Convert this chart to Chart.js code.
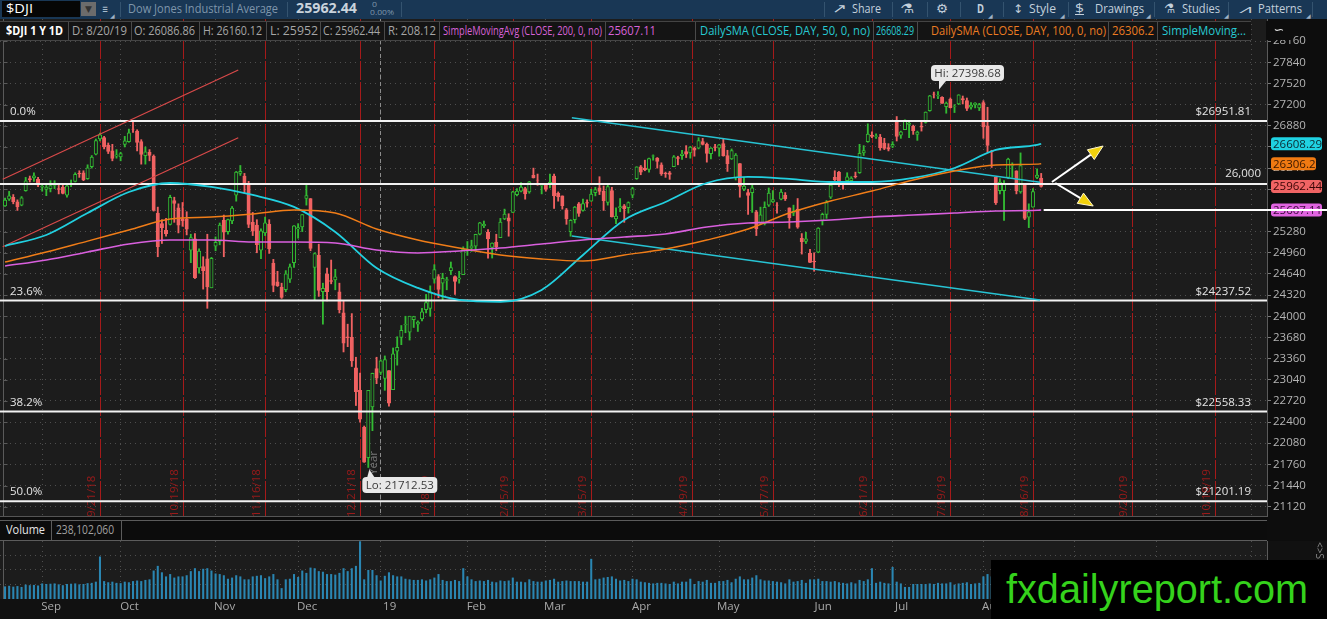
<!DOCTYPE html>
<html>
<head>
<meta charset="utf-8">
<script src="https://cdn.jsdelivr.net/npm/chart.js@4.4.0/dist/chart.umd.min.js"></script>
<style>
html,body{margin:0;padding:0;background:#0d0d0d;width:1327px;height:619px;overflow:hidden;font-family:"Open Sans","DejaVu Sans",sans-serif;}
.lb{position:absolute;white-space:nowrap;display:inline-block;transform-origin:0 50%;line-height:14px;}
#tb{position:absolute;left:0;top:0;width:1327px;height:19px;background:#193755;}
.sep{position:absolute;top:2px;width:1px;height:15px;background:#34536f;}
#hd{position:absolute;left:0;top:21px;width:1251px;height:18px;background:#141414;border-top:1px solid #444;border-bottom:1px solid #444;}
.hs{position:absolute;top:0;width:1px;height:18px;background:#4a4a4a;}
#pc{position:absolute;left:0;top:19px;}
#vc{position:absolute;left:0;top:541px;}
#vh{position:absolute;left:0;top:516px;width:1267px;height:24px;background:#0c0c0c;border-top:1px solid #555;}
#vh .in{position:absolute;left:0;top:3px;width:1267px;height:19px;border-top:1px solid #5c5c5c;border-bottom:1px solid #5c5c5c;}
#wm{position:absolute;left:991px;top:560px;width:336px;height:59px;background:#000;color:#35d21c;font-family:"Liberation Sans",Arial,sans-serif;font-size:40px;line-height:59px;}
#ic{position:absolute;left:1266px;top:21px;width:26px;height:19px;background:#0d0d0d;color:#ddd;font-size:13px;text-align:center;line-height:17px;}
</style>
</head>
<body>
<div id="tb"></div>
<canvas id="pc" width="1327" height="498"></canvas>
<div id="hd"></div>
<div id="ic">&#8765;</div>
<div id="vh"><div class="in"></div></div>
<canvas id="vc" width="1327" height="78"></canvas>
<div id="wm"><span class="lb" id="wmt" style="left:15px;top:0;line-height:59px">fxdailyreport.com</span></div>
<script>
// ---- daily bars 8/20/18 .. 8/20/19 (index 0 = 8/20/18) ----
const opens = [
  25669,25770,25800,25730,25680,25900,26080,26090,26070,25950,
  25916,25930,25980,25930,25950,25830,25990,26040,26160,26170,26080,26260,26450,26680,26700,26590,26500,26420,26410,
  26600,26640,26830,26800,26640,26430,26480,26420,25560,25400,25300,25390,25750,25640,25470,25470,25000,25170,24730,24750,24870,24430,25060,
  25130,25450,25280,25440,25830,26160,26120,25980,25420,25380,25000,25260,25390,24800,24520,24440,24400,24560,24810,25320,25350,
  25780,25780,24740,24920,24370,24640,24540,24550,24370,24050,23690,23680,23220,22880,22320,21860,22630,23210,23150,
  23060,23180,22890,23470,23680,23870,23760,23950,23880,23960,24100,24120,24560,24600,24500,24540,24690,24600,24560,24630,24990,
  25030,25060,25240,25370,25270,25040,25120,25190,25470,25490,25570,25840,25890,25930,25880,26130,26060,25980,25990,
  25990,26120,25860,25820,25610,25280,25460,25700,25600,25720,25740,25870,25940,25890,25720,25900,25470,25640,25670,25640,25830,
  26080,26260,26240,26220,26420,26390,26290,26160,26170,26260,26400,26430,26490,26470,26540,26540,26640,26600,26460,26560,26540,
  26610,26430,26380,26090,26310,25920,25870,25870,25580,25410,25400,25680,25730,25680,25770,25830,25640,25560,25620,25180,25130,24950,
  24830,24970,25450,25540,25800,26100,26180,26020,26050,26050,26120,26170,26470,26640,26740,26720,26710,26620,26550,26570,
  26960,26740,26820,26900,26870,26750,26870,26930,27110,27360,27330,27310,27170,27280,27170,27210,27290,27260,27160,27200,27150,27230,
  26880,26500,26100,25900,25900,26100,26280,26200,25880,26000,25500,25650,26100,26087
];
const highs = [
  25787,25888,25840,25760,25810,26100,26120,26167,26100,26010,
  25979,26050,26050,25990,25980,25990,26060,26170,26200,26200,26290,26430,26680,26770,26720,26620,26600,26520,26480,
  26720,26830,26952,26820,26670,26560,26520,26440,25650,25460,25480,25830,25800,25700,25720,25580,25240,25250,25020,24900,25240,24890,25200,
  25410,25530,25470,25660,26190,26280,26160,26040,25570,25460,25320,25500,25460,24860,24680,24500,24690,24790,25370,25400,25540,
  25980,25780,24960,25090,24500,24730,24850,24710,24500,24230,23880,24040,23380,23140,22340,22880,23140,23380,23340,
  23400,23180,23520,23690,23860,24000,24000,24000,23930,24120,24330,24460,24780,24630,24650,24590,24820,24610,24680,25050,25130,
  25150,25240,25420,25440,25310,25110,25240,25480,25620,25550,25890,25930,26020,25950,26040,26240,26150,26000,26000,
  26150,26150,25880,25820,25630,25460,25660,25720,25770,25760,25920,25950,26110,25970,26000,25950,25640,25780,25690,25730,25950,
  26260,26280,26360,26390,26440,26400,26320,26180,26190,26430,26420,26510,26580,26570,26560,26700,26690,26620,26550,26600,26600,
  26680,26510,26530,26460,26310,26100,25920,26000,25600,25650,25730,25940,25900,25720,25920,25870,25640,25680,25780,25250,25270,25010,
  24960,25340,25560,25750,26010,26200,26190,26040,26170,26110,26180,26600,26580,26910,26790,26760,26750,26690,26610,26640,
  27020,26800,26970,26960,26890,26800,26960,27090,27340,27390,27399,27320,27240,27300,27200,27350,27330,27300,27230,27230,27220,27260,
  27160,26510,26100,26080,26050,26390,26320,26200,26470,26010,25700,25930,26230,26160
];
const lows = [
  25660,25750,25700,25600,25670,25890,26030,26040,25960,25890,
  25823,25880,25930,25850,25850,25800,25960,26030,26100,26050,26070,26240,26440,26650,26530,26460,26350,26390,26350,
  26560,26630,26780,26500,26300,26300,26350,25590,24900,25100,25210,25380,25420,25260,25360,25230,24810,24570,24650,24410,24120,24430,24990,
  25080,24900,25240,25400,25740,26130,25860,25340,25220,24960,24870,25220,24950,24370,24450,24270,24370,24510,24740,25180,25280,
  25680,24990,24240,24300,23880,24230,24490,24400,24050,23460,23540,23240,22650,22400,21790,21713,22270,22980,23120,
  22880,22640,22890,23260,23570,23750,23640,23830,23770,23930,24050,24000,24500,24280,24250,24400,24630,24330,24500,24630,24920,
  24980,24990,25230,25340,24880,24880,24990,25190,25460,25210,25570,25820,25880,25770,25860,26090,25980,25850,25890,
  25940,25630,25740,25620,25390,25210,25410,25510,25590,25650,25740,25820,25840,25600,25680,25500,25400,25580,25420,25560,25790,
  26070,26140,26200,26180,26360,26240,26130,26100,26070,26260,26290,26370,26400,26390,26420,26530,26590,26330,26380,26500,26420,
  26420,26190,26370,26060,25800,25900,25540,25570,25220,25400,25380,25660,25720,25560,25760,25750,25330,25520,25330,24940,25100,24810,
  24680,24960,25380,25480,25780,26050,25960,25920,26030,26010,26090,26160,26430,26630,26700,26690,26510,26520,26500,26550,
  26650,26690,26820,26700,26750,26660,26800,26920,27100,27300,27290,27220,27070,27150,27080,27200,27210,27110,27130,27150,27110,26690,
  26480,26250,25690,25850,25450,26080,26100,25850,25860,25460,25340,25650,26080,25952
];
const closes = [
  25758,25822,25733,25656,25790,26049,26064,26124,25986,25965,
  25952,25974,25995,25916,25857,25971,25998,26145,26154,26062,26246,26405,26657,26743,26562,26492,26385,26440,26458,
  26651,26774,26828,26627,26447,26487,26431,25599,25053,25340,25250,25798,25706,25379,25444,25317,25191,24583,24984,24689,24443,24875,25116,
  25380,25271,25462,25635,26180,26191,25989,25387,25286,25081,25290,25413,25018,24465,24464,24286,24640,24749,25366,25339,25538,
  25826,25027,24947,24389,24423,24370,24527,24597,24101,23592,23675,23324,22860,22445,21792,22878,23138,23062,23327,
  23346,22686,23433,23531,23787,23879,24001,23996,23910,24065,24207,24370,24706,24404,24575,24553,24737,24528,24579,25014,24999,
  25064,25239,25411,25390,25169,25106,25053,25425,25543,25439,25883,25891,25954,25850,26031,26091,26057,25985,25916,
  26026,25819,25806,25673,25473,25450,25650,25554,25702,25709,25849,25914,25887,25746,25962,25502,25516,25657,25626,25717,25929,
  26258,26179,26218,26385,26425,26341,26151,26157,26143,26412,26385,26453,26450,26559,26512,26656,26597,26462,26543,26554,26593,
  26430,26308,26505,26438,25965,25968,25828,25942,25325,25532,25648,25863,25764,25679,25877,25776,25490,25586,25348,25126,25170,24815,
  24820,25332,25540,25720,25984,26062,26049,26004,26107,26090,26112,26465,26504,26753,26720,26727,26548,26537,26526,26600,
  26718,26787,26966,26922,26806,26784,26860,27088,27332,27359,27336,27220,27223,27154,27172,27350,27270,27141,27193,27222,27199,26864,
  26583,26485,25718,26030,26008,26378,26287,25898,26280,25479,25579,25886,26136,25962
];
// volume in millions
const volumes = [
  210,220,205,215,200,240,230,235,225,260,
  250,255,260,245,230,250,255,260,245,250,265,270,290,720,300,280,290,270,265,
  290,280,300,310,300,320,330,480,560,450,380,420,360,380,380,400,470,520,470,510,520,480,430,
  420,400,340,360,400,380,330,330,380,390,400,350,380,420,330,180,330,340,420,370,480,
  440,530,520,470,460,420,420,410,440,520,470,520,560,980,330,490,490,400,310,
  390,450,400,380,380,340,330,320,320,330,310,330,360,420,320,300,300,320,300,520,380,
  330,300,310,300,320,290,280,310,300,310,360,290,290,280,330,300,290,290,310,
  320,340,290,300,310,300,300,300,290,290,680,330,340,360,370,380,340,310,320,300,340,
  330,290,280,270,260,270,270,260,250,290,260,290,290,340,250,300,290,320,270,270,300,
  300,320,280,340,380,330,330,360,400,330,310,310,300,290,280,260,330,290,300,320,270,330,
  330,340,300,300,290,300,280,270,260,280,260,320,300,330,520,270,290,270,260,540,
  290,260,200,200,250,250,250,250,260,250,270,260,260,280,240,260,270,280,250,260,270,380,
  420,380,450,390,400,330,300,300,340,380,320,310,250,238
];

// moving averages at these bar indexes
const maIdx  = [0,10,20,30,40,50,60,70,80,90,100,110,120,130,140,150,160,170,180,190,200,210,220,230,240,250,251];
const sma50  = [25062,25229,25561,25879,26015,25955,25834,25653,25275,24730,24428,24246,24216,24398,24927,25456,25728,26015,26106,26076,26030,26030,26091,26242,26514,26590,26608.29];
const sma100 = [24820,24971,25137,25304,25470,25500,25546,25606,25561,25319,25153,25032,24926,24866,24835,24926,25017,25153,25319,25561,25743,25894,26060,26196,26287,26300,26306.2];
const sma200 = [24760,24851,24972,25093,25153,25153,25123,25123,25108,25002,24957,24987,25032,25093,25153,25198,25244,25350,25410,25425,25455,25501,25531,25561,25592,25602,25607.11];

// drawn studies (bar index / price)
const redChannelX  = [-0.57, 56.5];
const redUpperY    = [26071, 27724];
const redLowerY    = [25052, 26700];
const cyanChannelX = [137.3, 250.7];
const cyanUpperY   = [27002, 26027];
const cyanLowerY   = [25214, 24246];
const fibLevels = [26951.81, 24237.52, 22558.33, 21201.19];
const fibLabels = ['0.0%', '23.6%', '38.2%', '50.0%'];
const roundLevel = 26000;
const supportLevel = 25607.11;
const arrowUpX = [253.6, 266], arrowUpY = [26030, 26574];
const arrowDnX = [254.4, 263.6], arrowDnY = [26015, 25667];
const hiBar = 226, hiPrice = 27398.68;
const loBar = 88, loPrice = 21712.53;

// axes
const priceTicks = [21120,21440,21760,22080,22400,22720,23040,23360,23680,24000,24320,24640,24960,25280,25600,25920,26240,26560,26880,27200,27520,27840,28160];
const monthTicks = [9,28,51,71,91,112,131,152,173,196,215,237,259,279,302];
const monthLabels = ['Sep','Oct','Nov','Dec','19','Feb','Mar','Apr','May','Jun','Jul','Aug','Sep','Oct','Nov'];
const expiryIdx = [23,43,63,86,104,123,142,166.3,186,210,229,249,273,293];
const expiryLabels = ['9/21/18','10/19/18','11/16/18','12/21/18','1/18/19','2/15/19','3/15/19','4/19/19','5/17/19','6/21/19','7/19/19','8/16/19','9/20/19','10/18/19'];
const yearIdx = 90.9;
const volTicks = [250,500,750];
const axisBoxes = [
  { v: 26608.29, txt: '26608.29', bg: '#1fd2e2', fg: '#0c2a30', w: 51 },
  { v: 26306.2,  txt: '26306.2',  bg: '#f07a12', fg: '#3a1800', w: 45 },
  { v: 25962.44, txt: '25962.44', bg: '#f06464', fg: '#3a0505', w: 51 },
  { v: 25607.11, txt: '25607.11', bg: '#e064e0', fg: '#3a0a3a', w: 51 }
];

const xMin = -1.22, xMax = 305.7;
const yMin = 20964.2, yMax = 28494.8;
const volMax = 990;

const GREEN = '#33bb33', RED = '#f06262', PLOT = '#1c1c1c';
const FONT = "'Open Sans','DejaVu Sans',sans-serif";
Chart.defaults.font.family = FONT;
Chart.defaults.font.size = 11;

// ---- top toolbar & header (text stretched to the widths seen) ----
function label(parent, l, r, top, text, style) {
  const s = document.createElement('span');
  s.className = 'lb'; s.textContent = text;
  s.style.left = l + 'px'; s.style.top = top + 'px';
  Object.assign(s.style, style || {});
  parent.appendChild(s);
  if (r) {
    const w = s.getBoundingClientRect().width;
    s.style.transform = 'scaleX(' + ((r - l) / w) + ')';
  }
  return s;
}
const tb = document.getElementById('tb');
const box = document.createElement('div');
box.style.cssText = 'position:absolute;left:2px;top:1px;width:78px;height:16px;background:#060606;';
tb.appendChild(box);
const dd = document.createElement('div');
dd.style.cssText = 'position:absolute;left:81px;top:2px;width:15px;height:14px;background:#6c6c6c;color:#333;font-size:9px;text-align:center;line-height:14px;';
dd.textContent = '\u25BC'; tb.appendChild(dd);
label(tb, 6, 33, 2, '$DJI', { color: '#fff', fontSize: '12px' });
label(tb, 102, 108, 2, '\u2261', { color: '#a9bccd', fontSize: '12px' });
label(tb, 128, 278, 2, 'Dow Jones Industrial Average', { color: '#7f96ab', fontSize: '12px' });
label(tb, 296, 357, 1, '25962.44', { color: '#c9d3dc', fontSize: '14px', fontWeight: 'bold' });
label(tb, 372, 377, -3, '0', { color: '#7f96ab', fontSize: '8px' });
label(tb, 370, 394, 5, '0.00%', { color: '#7f96ab', fontSize: '8px' });
[120, 287, 401, 824, 892, 927, 960, 1003, 1068, 1154, 1228, 1312].forEach(x => {
  const d = document.createElement('div'); d.className = 'sep'; d.style.left = x + 'px'; tb.appendChild(d);
});
const tbc = { color: '#c3d0dc', fontSize: '12px' };
label(tb, 832, 847, 1, '\u2197', Object.assign({}, tbc, { fontSize: '13px' }));
label(tb, 852, 881, 2, 'Share', tbc);
label(tb, 900, 914, 1, '\u2697', Object.assign({}, tbc, { fontSize: '13px' }));
label(tb, 936, 948, 1, '\u2699', Object.assign({}, tbc, { fontSize: '13px' }));
label(tb, 977, 984, 2, 'D', Object.assign({}, tbc, { fontWeight: 'bold' }));
label(tb, 1013, 1023, 2, '\u2195', tbc);
label(tb, 1029, 1056, 2, 'Style', tbc);
label(tb, 1075, 1084, 2, '$', Object.assign({}, tbc, { textDecoration: 'underline' }));
label(tb, 1095, 1144, 2, 'Drawings', tbc);
label(tb, 1164, 1175, 1, '\u2697', Object.assign({}, tbc, { fontSize: '13px' }));
label(tb, 1182, 1220, 2, 'Studies', tbc);
label(tb, 1239, 1252, 2, '\u2A58', tbc);
label(tb, 1258, 1302, 2, 'Patterns', tbc);
[110, 988, 1060, 1146, 1224, 1306].forEach(x => label(tb, x, 0, 9, '\u25E2', { color: '#9fb2c4', fontSize: '6px' }));

const hd = document.getElementById('hd');
const hcells = [
  [6, 63, '$DJI 1 Y 1D', '#ffffff', 'bold'], [72, 127, 'D: 8/20/19', '#a6a6a6'],
  [134, 195, 'O: 26086.86', '#a6a6a6'], [203, 262, 'H: 26160.12', '#a6a6a6'],
  [270, 318, 'L: 25952', '#a6a6a6'], [323, 380, 'C: 25962.44', '#a6a6a6'],
  [388, 436, 'R: 208.12', '#a6a6a6'], [443, 602, 'SimpleMovingAvg (CLOSE, 200, 0, no)', '#d862d8'],
  [608, 656, '25607.11', '#d862d8'], [700, 870, 'DailySMA (CLOSE, DAY, 50, 0, no)', '#27c9d2'],
  [876, 914, '26608.29', '#27c9d2'], [931, 1106, 'DailySMA (CLOSE, DAY, 100, 0, no)', '#ec7c22'],
  [1112, 1154, '26306.2', '#ec7c22'], [1162, 1246, 'SimpleMoving...', '#27c9d2']
];
hcells.forEach(c => label(hd, c[0], c[1], 2, c[2], { color: c[3], fontSize: '12px', fontWeight: c[4] || 'normal' }));
[68, 131, 199, 266, 320, 384, 439, 605, 695, 873, 917, 1108, 1157].forEach(x => {
  const d = document.createElement('div'); d.className = 'hs'; d.style.left = x + 'px'; hd.appendChild(d);
});
const vin = document.querySelector('#vh .in');
label(vin, 6, 45, 2, 'Volume', { color: '#e6e6e6', fontSize: '12px' });
label(vin, 56, 114, 2, '238,102,060', { color: '#a0a0a0', fontSize: '12px' });
[51, 121].forEach(x => { const d = document.createElement('div'); d.className = 'hs'; d.style.left = x + 'px'; d.style.height = '19px'; d.style.background = '#5c5c5c'; vin.appendChild(d); });
(function () { const s = document.getElementById('wmt'); const w = s.getBoundingClientRect().width; s.style.transform = 'scaleX(' + (302 / w) + ')'; })();

// ---- price chart ----
const up = closes.map((c, i) => c >= opens[i]);
const line = (xs, ys, color, width) => ({
  type: 'line', data: xs.map((x, i) => ({ x, y: ys[i] })), borderColor: color, borderWidth: width,
  pointRadius: 0, fill: false, order: 0
});

function drawArrow(ctx, x1, y1, x2, y2) {
  const a = Math.atan2(y2 - y1, x2 - x1), L = 15, W = 6;
  const bx = x2 - L * Math.cos(a), by = y2 - L * Math.sin(a);
  ctx.strokeStyle = '#ffffff'; ctx.lineWidth = 2;
  ctx.beginPath(); ctx.moveTo(x1, y1); ctx.lineTo(bx, by); ctx.stroke();
  ctx.beginPath();
  ctx.moveTo(x2, y2);
  ctx.lineTo(bx + W * Math.sin(a), by - W * Math.cos(a));
  ctx.lineTo(bx - W * Math.sin(a), by + W * Math.cos(a));
  ctx.closePath();
  ctx.fillStyle = '#f2d20c'; ctx.fill();
  ctx.lineWidth = 1; ctx.strokeStyle = '#fff8d0'; ctx.stroke();
}
function rrect(ctx, x, y, w, h, r) {
  ctx.beginPath(); ctx.roundRect(x, y, w, h, r);
}

const priceDeco = {
  id: 'priceDeco',
  beforeDraw(chart) {
    const { ctx, chartArea: a } = chart;
    ctx.save();
    ctx.fillStyle = '#0d0d0d'; ctx.fillRect(0, 0, chart.width, chart.height);
    ctx.fillStyle = PLOT; ctx.fillRect(a.left, a.top, a.width, a.height);
    ctx.restore();
  },
  beforeDatasetsDraw(chart) {
    const { ctx, chartArea: a, scales: { x, y } } = chart;
    ctx.save();
    ctx.beginPath(); ctx.rect(a.left, a.top, a.width, a.height); ctx.clip();
    // left frame with small ticks
    ctx.strokeStyle = '#5a5a5a'; ctx.lineWidth = 1;
    ctx.beginPath(); ctx.moveTo(3.5, a.top); ctx.lineTo(3.5, a.bottom); ctx.stroke();
    priceTicks.forEach(v => { const py = Math.round(y.getPixelForValue(v)) + 0.5; ctx.beginPath(); ctx.moveTo(3.5, py); ctx.lineTo(7.5, py); ctx.stroke(); });
    expiryIdx.forEach((v, i) => {
      const px = Math.round(x.getPixelForValue(v)) + 0.5;
      ctx.strokeStyle = '#a51a1a'; ctx.setLineDash([19, 2]);
      ctx.beginPath(); ctx.moveTo(px, a.top); ctx.lineTo(px, a.bottom); ctx.stroke();
      ctx.setLineDash([]);
      ctx.save(); ctx.translate(px - 3, 498); ctx.rotate(-Math.PI / 2);
      ctx.font = '11.5px ' + FONT; ctx.fillStyle = '#9a1a1a'; ctx.textAlign = 'left'; ctx.textBaseline = 'bottom';
      ctx.fillText(expiryLabels[i], 0, 0); ctx.restore();
    });
    const yx = Math.round(x.getPixelForValue(yearIdx)) + 0.5;
    ctx.strokeStyle = '#8c8c8c'; ctx.setLineDash([4, 3]);
    ctx.beginPath(); ctx.moveTo(yx, a.top); ctx.lineTo(yx, a.bottom); ctx.stroke();
    ctx.setLineDash([]);
    ctx.save(); ctx.translate(yx - 1, 475 - 19); ctx.rotate(-Math.PI / 2);
    ctx.font = '11.5px ' + FONT; ctx.fillStyle = '#7a7a7a'; ctx.textBaseline = 'bottom';
    ctx.fillText('Year', 0, 0); ctx.restore();
    ctx.restore();
  },
  afterDatasetsDraw(chart) {
    const { ctx, chartArea: a, scales: { x, y } } = chart;
    ctx.save();
    ctx.font = '11.5px ' + FONT; ctx.fillStyle = '#e4e4e4'; ctx.textBaseline = 'alphabetic';
    fibLevels.forEach((v, i) => {
      const py = y.getPixelForValue(v);
      ctx.textAlign = 'left'; ctx.fillText(fibLabels[i], 10, py - 6);
      ctx.textAlign = 'right'; ctx.fillText('$' + v.toFixed(2), 1251, py - 6);
    });
    ctx.textAlign = 'right';
    ctx.fillText(roundLevel.toLocaleString('en-US'), 1261, y.getPixelForValue(roundLevel) - 7);
    drawArrow(ctx, x.getPixelForValue(arrowUpX[0]), y.getPixelForValue(arrowUpY[0]), x.getPixelForValue(arrowUpX[1]), y.getPixelForValue(arrowUpY[1]));
    drawArrow(ctx, x.getPixelForValue(arrowDnX[0]), y.getPixelForValue(arrowDnY[0]), x.getPixelForValue(arrowDnX[1]), y.getPixelForValue(arrowDnY[1]));
    // hi / lo bubbles
    ctx.font = '11.5px ' + FONT; ctx.textAlign = 'center'; ctx.textBaseline = 'middle';
    const hx = x.getPixelForValue(hiBar), hy = y.getPixelForValue(hiPrice);
    const hb = { l: hx - 7, t: hy - 26.5, w: 73, h: 16 };
    ctx.fillStyle = '#e8e8e8';
    rrect(ctx, hb.l, hb.t, hb.w, hb.h, 4); ctx.fill();
    ctx.beginPath(); ctx.moveTo(hb.l + 8, hb.t + hb.h); ctx.lineTo(hb.l + 15, hb.t + hb.h); ctx.lineTo(hx + 1, hy - 2); ctx.closePath(); ctx.fill();
    ctx.fillStyle = '#3a3a3a'; ctx.fillText('Hi: 27398.68', hb.l + hb.w / 2, hb.t + hb.h / 2 + 0.5);
    const lx = x.getPixelForValue(loBar), ly = y.getPixelForValue(loPrice);
    const lb = { l: lx - 6, t: ly + 9.5, w: 75, h: 16 };
    ctx.fillStyle = '#e8e8e8';
    rrect(ctx, lb.l, lb.t, lb.w, lb.h, 4); ctx.fill();
    ctx.beginPath(); ctx.moveTo(lb.l + 5, lb.t); ctx.lineTo(lb.l + 12, lb.t); ctx.lineTo(lx + 1, ly + 2); ctx.closePath(); ctx.fill();
    ctx.fillStyle = '#3a3a3a'; ctx.fillText('Lo: 21712.53', lb.l + lb.w / 2, lb.t + lb.h / 2 + 0.5);
    ctx.restore();
  },
  afterDraw(chart) {
    const { ctx, chartArea: a, scales: { x, y } } = chart;
    ctx.save();
    ctx.strokeStyle = '#5a5a5a'; ctx.lineWidth = 1;
    ctx.beginPath(); ctx.moveTo(a.right + 0.5, a.top); ctx.lineTo(a.right + 0.5, a.bottom); ctx.stroke();
    ctx.font = '11.5px ' + FONT; ctx.textAlign = 'left'; ctx.textBaseline = 'middle';
    axisBoxes.forEach(b => {
      const py = y.getPixelForValue(b.v);
      ctx.fillStyle = b.bg; rrect(ctx, a.right + 4, py - 6.5, b.w, 13, 3); ctx.fill();
      ctx.fillStyle = b.fg; ctx.fillText(b.txt, a.right + 6, py + 0.5);
    });
    const sy = Math.round(y.getPixelForValue(supportLevel));
    ctx.strokeStyle = '#ffffff'; ctx.lineWidth = 2;
    ctx.beginPath(); ctx.moveTo(x.getPixelForValue(251.6), sy); ctx.lineTo(chart.width, sy); ctx.stroke();
    ctx.restore();
  }
};

const barCommon = { type: 'bar', grouped: false, barPercentage: 1, categoryPercentage: 1, borderSkipped: false };
new Chart(document.getElementById('pc'), {
  type: 'bar',
  data: {
    datasets: [
      Object.assign({}, barCommon, {
        data: closes.map((c, i) => ({ x: i, y: [lows[i], highs[i]] })),
        backgroundColor: up.map(u => u ? GREEN : RED), barThickness: 1.2, maxBarThickness: 1.2, order: 3
      }),
      Object.assign({}, barCommon, {
        data: closes.map((c, i) => ({ x: i, y: [opens[i], c] })),
        backgroundColor: up.map(u => u ? PLOT : RED), borderColor: up.map(u => u ? GREEN : RED),
        borderWidth: 1, barThickness: 3.4, maxBarThickness: 3.4, order: 2
      }),
      Object.assign(line(maIdx, sma200, '#d95fde', 1.6), { cubicInterpolationMode: 'monotone' }),
      Object.assign(line(maIdx, sma100, '#f07d18', 1.4), { cubicInterpolationMode: 'monotone' }),
      Object.assign(line(maIdx, sma50, '#22d0e0', 1.8), { cubicInterpolationMode: 'monotone' }),
      line(redChannelX, redUpperY, '#d94a4a', 1.2),
      line(redChannelX, redLowerY, '#d94a4a', 1.2),
      line(cyanChannelX, cyanUpperY, '#27c3d3', 1.4),
      line(cyanChannelX, cyanLowerY, '#27c3d3', 1.4),
      ...fibLevels.map(v => line([xMin, xMax], [v, v], '#f2f2f2', 2)),
      line([xMin, xMax], [roundLevel, roundLevel], '#f2f2f2', 2)
    ]
  },
  options: {
    responsive: false, animation: false, events: [],
    layout: { padding: 0 },
    plugins: { legend: { display: false }, tooltip: { enabled: false } },
    scales: {
      x: {
        type: 'linear', min: xMin, max: xMax, offset: false,
        grid: { offset: false, color: '#4e4e4e', drawTicks: false },
        border: { display: false, dash: [1, 4] },
        ticks: { display: false },
        afterBuildTicks: s => { s.ticks = monthTicks.map(v => ({ value: v })); },
        afterFit: s => { s.height = 0; s.paddingLeft = 0; s.paddingRight = 0; }
      },
      y: {
        position: 'right', min: yMin, max: yMax, beginAtZero: false,
        grid: { color: '#4e4e4e', tickColor: '#7a7a7a', tickLength: 4, tickBorderDash: [] },
        border: { display: false, dash: [1, 4] },
        ticks: { color: '#b4b4b4', padding: 2, font: { size: 11.5 }, callback: v => String(v) },
        afterBuildTicks: s => { s.ticks = priceTicks.map(v => ({ value: v })); },
        afterFit: s => { s.width = 60; s.paddingTop = 0; s.paddingBottom = 0; }
      }
    }
  },
  plugins: [priceDeco]
});

// ---- volume pane ----
const volDeco = {
  id: 'volDeco',
  beforeDraw(chart) {
    const { ctx, chartArea: a } = chart;
    ctx.save();
    ctx.fillStyle = '#111111'; ctx.fillRect(0, 0, chart.width, chart.height);
    ctx.fillStyle = PLOT; ctx.fillRect(a.left, a.top, a.width, a.height);
    ctx.restore();
  },
  afterDraw(chart) {
    const { ctx, chartArea: a } = chart;
    ctx.save();
    ctx.strokeStyle = '#5a5a5a'; ctx.lineWidth = 1;
    ctx.beginPath(); ctx.moveTo(a.right + 0.5, 0); ctx.lineTo(a.right + 0.5, a.bottom); ctx.stroke();
    ctx.beginPath(); ctx.moveTo(3.5, a.top); ctx.lineTo(3.5, a.bottom); ctx.stroke();
    ctx.translate(1314, 1); ctx.rotate(Math.PI / 2);
    ctx.font = '10px ' + FONT; ctx.fillStyle = '#8a8a8a'; ctx.textBaseline = 'bottom';
    ctx.fillText('<>SL', 0, 0);
    ctx.restore();
  }
};
new Chart(document.getElementById('vc'), {
  type: 'bar',
  data: {
    datasets: [{
      data: volumes.map((v, i) => ({ x: i, y: v })), backgroundColor: '#2a86b2',
      barThickness: 1.4, maxBarThickness: 1.4, grouped: false, barPercentage: 1, categoryPercentage: 1
    }]
  },
  options: {
    responsive: false, animation: false, events: [],
    layout: { padding: 0 },
    plugins: { legend: { display: false }, tooltip: { enabled: false } },
    scales: {
      x: {
        type: 'linear', min: xMin, max: xMax, offset: false,
        grid: { offset: false, color: '#4e4e4e', drawTicks: false },
        border: { display: false, dash: [1, 4] },
        ticks: { color: '#a9a9a9', padding: 1, labelOffset: 9, autoSkip: false, maxRotation: 0, font: { size: 11.5 },
          callback: (v, i) => monthLabels[i] },
        afterBuildTicks: s => { s.ticks = monthTicks.map(v => ({ value: v })); },
        afterFit: s => { s.height = 20; s.paddingLeft = 0; s.paddingRight = 0; }
      },
      y: {
        position: 'right', min: 0, max: volMax,
        grid: { color: '#4e4e4e', drawTicks: false },
        border: { display: false, dash: [1, 4] },
        ticks: { display: false },
        afterBuildTicks: s => { s.ticks = volTicks.map(v => ({ value: v })); },
        afterFit: s => { s.width = 60; s.paddingTop = 0; s.paddingBottom = 0; }
      }
    }
  },
  plugins: [volDeco]
});
</script>
</body>
</html>
